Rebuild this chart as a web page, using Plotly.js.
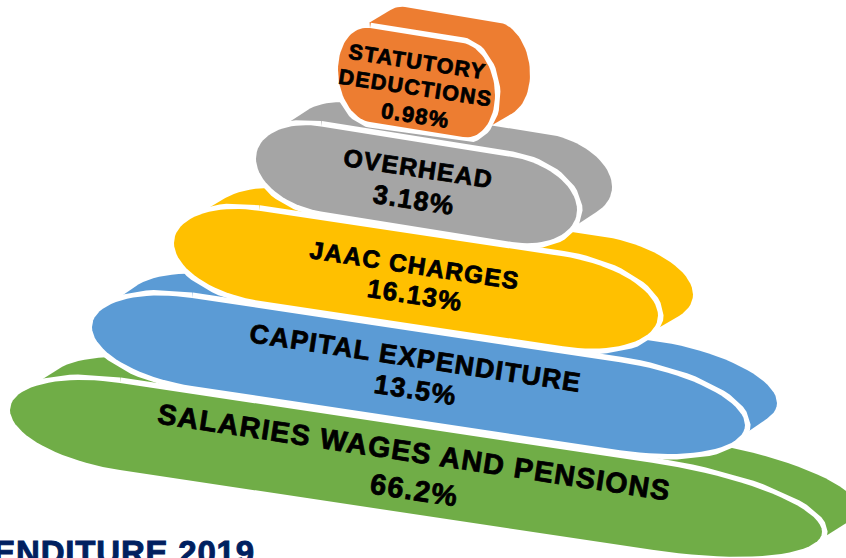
<!DOCTYPE html>
<html>
<head>
<meta charset="utf-8">
<script src="https://cdn.plot.ly/plotly-3.0.1.min.js"></script>
<style>
html,body{margin:0;padding:0;background:#fff;overflow:hidden}
.annotation-text{letter-spacing:1.3px;stroke:#000;stroke-width:0.8px}
.annotation:last-of-type .annotation-text{letter-spacing:0.8px;stroke:#002060;stroke-width:0.9px}
</style>
</head>
<body>
<div id="chart" style="width:846px;height:558px"></div>
<script>
// Data, bottom layer first
const categories = ["SALARIES WAGES AND PENSIONS", "CAPITAL EXPENDITURE", "JAAC CHARGES", "OVERHEAD", "STATUTORY DEDUCTIONS"];
const categoryLines = [["SALARIES WAGES AND PENSIONS"], ["CAPITAL EXPENDITURE"], ["JAAC CHARGES"], ["OVERHEAD"], ["STATUTORY", "DEDUCTIONS"]];
const percentages = [66.2, 13.5, 16.13, 3.18, 0.98];
const titleText = "ENDITURE 2019";

// Layout of the layered pills (separate from the data)
const colors = ["#70AD47", "#5B9BD5", "#FFC000", "#A5A5A5", "#ED7D31"];
const faceLeft = [10, 92, 174, 256, 338];
const faceRight = [822, 745, 658, 577, 495];
const faceTop = [366.5, 283, 198, 116, 23];
const faceHeight = [87, 88, 90, 85, 94];
const cornerLeft = [110, 100, 85, 65, 32];
const cornerRight = [170, 125, 95, 65, 32];
const shear = [0.15, 0.15, 0.15, 0.16, 0.16];
const depthX = [36, 32, 35, 35, 35];
const depthY = [-23, -22, -21, -23, -21];
const labelCenters = [
  [[414, 452], [414, 490]],
  [[415, 358], [415, 390]],
  [[415, 265], [415, 295]],
  [[418, 168], [414, 200]],
  [[417, 62], [415, 88], [415, 115]]
];
const labelSizes = [28.6, 26.7, 24.5, 24.8, 21.5];
const percentSizes = [29, 27, 26, 26.6, 22];
const textAngle = 8.6;

function face(i) {
  const L = faceRight[i] - faceLeft[i], H = faceHeight[i], rl = cornerLeft[i], rr = cornerRight[i], ry = H / 2, pts = [];
  const N = 40;
  for (let a = 0; a <= N; a++) {           // left end
    const th = Math.PI / 2 + Math.PI * a / N;
    pts.push([rl + rl * Math.cos(th), ry - ry * Math.sin(th)]);
  }
  for (let a = 0; a <= N; a++) {           // right end
    const th = -Math.PI / 2 + Math.PI * a / N;
    pts.push([L - rr + rr * Math.cos(th), ry - ry * Math.sin(th)]);
  }
  return pts.map(p => [faceLeft[i] + p[0], faceTop[i] + shear[i] * p[0] + p[1]]);
}
function hull(points) {
  const p = points.slice().sort((a, b) => a[0] - b[0] || a[1] - b[1]);
  const cross = (o, a, b) => (a[0] - o[0]) * (b[1] - o[1]) - (a[1] - o[1]) * (b[0] - o[0]);
  const lo = [], up = [];
  p.forEach(q => { while (lo.length > 1 && cross(lo[lo.length - 2], lo[lo.length - 1], q) <= 0) lo.pop(); lo.push(q); });
  p.slice().reverse().forEach(q => { while (up.length > 1 && cross(up[up.length - 2], up[up.length - 1], q) <= 0) up.pop(); up.push(q); });
  return lo.slice(0, -1).concat(up.slice(0, -1));
}
function closedTrace(pts, fill, lineColor, lineWidth, name) {
  const c = pts.concat([pts[0]]);
  return {
    type: "scatter", mode: "lines", name: name,
    x: c.map(p => p[0]), y: c.map(p => p[1]),
    fill: "toself", fillcolor: fill,
    line: { color: lineColor, width: lineWidth },
    hoverinfo: "skip", showlegend: false
  };
}

const traces = [];
categories.forEach((cat, i) => {
  const f = face(i);
  const back = f.map(p => [p[0] + depthX[i], p[1] + depthY[i]]);
  traces.push(closedTrace(hull(f.concat(back)), colors[i], colors[i], 0, cat + " side"));
  traces.push(closedTrace(f, "#FFFFFF", "#FFFFFF", 11, cat + " outline"));
  traces.push(closedTrace(f, colors[i], colors[i], 0, cat));
});

const annotations = [];
function addText(text, c, size) {
  annotations.push({
    text: text, x: c[0], y: c[1], xref: "x", yref: "y",
    xanchor: "center", yanchor: "middle", showarrow: false, textangle: textAngle,
    font: { family: "Liberation Sans, Arial, sans-serif", size: size, color: "#000000", weight: 700 }
  });
}
categories.forEach((cat, i) => {
  categoryLines[i].forEach((line, j) => addText(line, labelCenters[i][j], labelSizes[i]));
  addText(percentages[i] + "%", labelCenters[i][categoryLines[i].length], percentSizes[i]);
});
annotations.push({
  text: titleText, x: 0, y: 552, xshift: -12, xref: "x", yref: "y", xanchor: "left", yanchor: "middle",
  showarrow: false, font: { family: "Liberation Sans, Arial, sans-serif", size: 33, color: "#002060", weight: 700 }
});

Plotly.newPlot("chart", traces, {
  width: 846, height: 558,
  margin: { l: 0, r: 0, t: 0, b: 0 },
  paper_bgcolor: "#FFFFFF", plot_bgcolor: "#FFFFFF",
  xaxis: { range: [0, 846], visible: false, fixedrange: true },
  yaxis: { range: [558, 0], visible: false, fixedrange: true },
  annotations: annotations, showlegend: false
}, { displayModeBar: false, staticPlot: true });
</script>
</body>
</html>
